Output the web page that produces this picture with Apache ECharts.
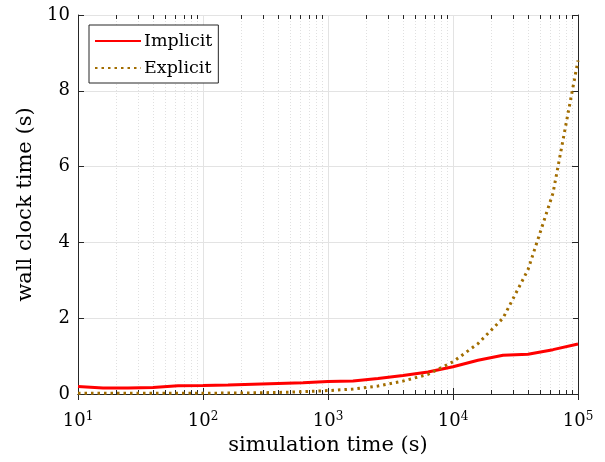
<!DOCTYPE html>
<html>
<head>
<meta charset="utf-8">
<script src="https://cdn.jsdelivr.net/npm/echarts@6/dist/echarts.min.js"></script>
<style>html,body{margin:0;padding:0;background:#fff}#c{width:605px;height:462px}</style>
</head>
<body>
<div id="c"></div>
<script>
const simTimes = [10, 15.85, 25.12, 39.81, 63.10, 100, 158.5, 251.2, 398.1, 631.0, 1000, 1585, 2512, 3981, 6310, 10000, 15849, 25119, 39811, 63096, 100000];
const implicitTimes = [0.20, 0.16, 0.16, 0.17, 0.22, 0.225, 0.24, 0.26, 0.28, 0.30, 0.33, 0.34, 0.41, 0.49, 0.58, 0.72, 0.89, 1.02, 1.05, 1.17, 1.32];
const explicitTimes = [0.02, 0.02, 0.02, 0.02, 0.02, 0.02, 0.025, 0.03, 0.04, 0.06, 0.09, 0.13, 0.21, 0.34, 0.52, 0.85, 1.33, 2.0, 3.28, 5.3, 8.8];
const seriesNames = ['Implicit', 'Explicit'];
const minorXTicks = [20,30,40,50,60,70,80,90,200,300,400,500,600,700,800,900,2000,3000,4000,5000,6000,7000,8000,9000,20000,30000,40000,50000,60000,70000,80000,90000];
const xLabel = 'simulation time (s)';
const yLabel = 'wall clock time (s)';

const FONT = 'DejaVu Serif';
const AX = '#262626';
const chart = echarts.init(document.getElementById('c'), null, {renderer: 'canvas'});

function pair(xs, ys) { return xs.map((x, i) => [x, ys[i]]); }

const xCommon = {type: 'log', logBase: 10, min: 10, max: 100000};
const yCommon = {type: 'value', min: 0, max: 10, interval: 2};

chart.setOption({
  animation: false,
  backgroundColor: '#fff',
  grid: {left: 78, right: 27, top: 15, bottom: 68, containLabel: false},
  legend: {
    data: seriesNames,
    orient: 'vertical',
    left: 89, top: 25,
    backgroundColor: '#fff',
    borderColor: AX, borderWidth: 1,
    padding: [7, 6, 6, 5],
    itemWidth: 46, itemHeight: 14, itemGap: 9,
    itemStyle: {opacity: 0},
    textStyle: {fontFamily: FONT, fontSize: 17.5, color: '#000', padding: [0, 0, 0, -2]}
  },
  xAxis: [
    Object.assign({}, xCommon, {
      position: 'bottom',
      name: xLabel, nameLocation: 'middle', nameGap: 36,
      nameTextStyle: {fontFamily: FONT, fontSize: 21, color: '#000'},
      axisLine: {show: true, lineStyle: {color: AX, width: 1}},
      axisTick: {show: true, inside: true, length: 6, lineStyle: {color: AX}},
      axisLabel: {
        margin: 17,
        formatter: v => '{b|10}{s|' + Math.round(Math.log10(v)) + '}',
        rich: {
          b: {fontFamily: FONT, fontSize: 18, color: '#000'},
          s: {fontFamily: FONT, fontSize: 12, color: '#000', padding: [0, 0, 9, 0]}
        }
      },
      splitLine: {show: true, lineStyle: {color: '#e3e3e3', width: 1}}
    }),
    Object.assign({}, xCommon, {
      position: 'top',
      axisLine: {show: true, lineStyle: {color: AX, width: 1}},
      axisTick: {show: true, inside: true, length: 6, lineStyle: {color: AX}},
      axisLabel: {show: false},
      splitLine: {show: false}
    })
  ],
  yAxis: [
    Object.assign({}, yCommon, {
      position: 'left',
      name: yLabel, nameLocation: 'middle', nameGap: 32, nameRotate: 90,
      nameTextStyle: {fontFamily: FONT, fontSize: 21, color: '#000'},
      axisLine: {show: true, lineStyle: {color: AX, width: 1}},
      axisTick: {show: true, inside: true, length: 6, lineStyle: {color: AX}},
      axisLabel: {margin: 8, fontFamily: FONT, fontSize: 18, color: '#000'},
      splitLine: {show: true, lineStyle: {color: '#e3e3e3', width: 1}}
    }),
    Object.assign({}, yCommon, {
      position: 'right',
      axisLine: {show: true, lineStyle: {color: AX, width: 1}},
      axisTick: {show: true, inside: true, length: 6, lineStyle: {color: AX}},
      axisLabel: {show: false},
      splitLine: {show: false}
    })
  ],
  series: [
    {
      type: 'custom',
      name: 'minor',
      xAxisIndex: 0, yAxisIndex: 0,
      silent: true, z: 1,
      data: minorXTicks.map(v => [v, 0]),
      encode: {x: 0, y: 1},
      clip: false,
      renderItem: function (params, api) {
        const x = api.value(0);
        const top = api.coord([x, 10]);
        const bot = api.coord([x, 0]);
        const px = Math.round(top[0]) + 0.5;
        return {
          type: 'group',
          children: [
            {type: 'line', shape: {x1: px, y1: top[1], x2: px, y2: bot[1]},
             style: {stroke: '#e0e0e0', lineWidth: 1, lineDash: [1, 2]}},
            {type: 'line', shape: {x1: px, y1: bot[1], x2: px, y2: bot[1] - 4},
             style: {stroke: AX, lineWidth: 1}},
            {type: 'line', shape: {x1: px, y1: top[1], x2: px, y2: top[1] + 4},
             style: {stroke: AX, lineWidth: 1}}
          ]
        };
      }
    },
    {
      type: 'line', name: seriesNames[0], z: 3,
      data: pair(simTimes, implicitTimes),
      symbol: 'none', showSymbol: false,
      color: '#ff0000',
      lineStyle: {color: '#ff0000', width: 3}
    },
    {
      type: 'line', name: seriesNames[1], z: 4,
      data: pair(simTimes, explicitTimes),
      symbol: 'none', showSymbol: false,
      color: '#a26d00',
      lineStyle: {color: '#a26d00', width: 3, type: [2.5, 4], cap: 'butt'}
    }
  ]
});
</script>
</body>
</html>
